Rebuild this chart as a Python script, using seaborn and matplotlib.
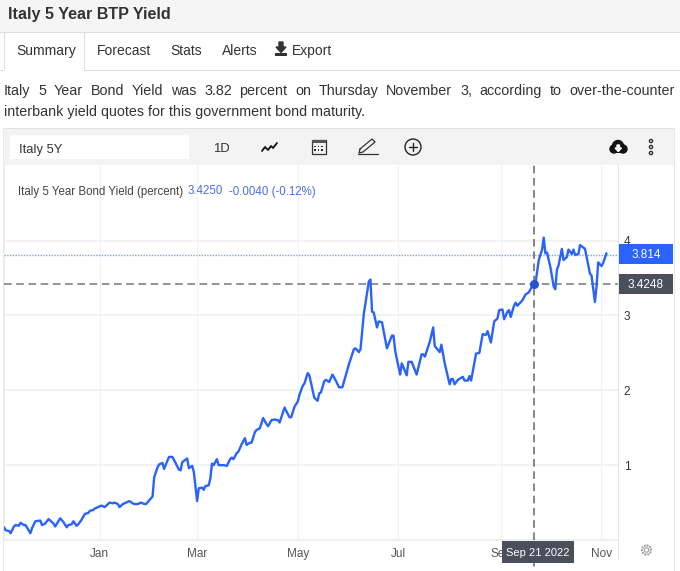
import pandas as pd
import matplotlib.pyplot as plt
import seaborn as sns
from matplotlib.patches import Rectangle, Circle, Polygon

# Days since 1 Jan 2022 and the yield
days = [-58, -57, -55, -54, -52, -51, -49, -48, -46, -45, -42, -41, -39, -36, -35, -33, -31, -29, -28, -27,
        -24, -22, -20, -19, -17, -16, -14, -13, -11, -9, -7, -6, -4, -3, 0, 1, 3, 4, 6, 8,
        9, 11, 12, 14, 16, 18, 20, 21, 23, 25, 27, 28, 30, 32, 33, 35, 36, 38, 39, 41,
        42, 44, 45, 48, 49, 50, 53, 54, 56, 57, 59, 60, 62, 63, 64, 66, 67, 68, 69, 71,
        72, 75, 77, 79, 80, 81, 83, 84, 86, 88, 89, 91, 92, 94, 95, 97, 99, 101, 102, 104,
        106, 108, 109, 112, 114, 115, 116, 118, 120, 121, 123, 124, 126, 127, 130, 132, 133, 134, 136, 137,
        139, 141, 143, 145, 147, 151, 154, 155, 157, 158, 160, 163, 164, 165, 166, 168, 169, 171, 174, 177,
        178, 179, 180, 182, 183, 186, 187, 189, 192, 195, 196, 197, 200, 202, 203, 206, 207, 209, 212, 213,
        214, 215, 217, 220, 221, 223, 224, 225, 228, 230, 232, 234, 235, 237, 239, 241, 242, 244, 245, 247,
        248, 249, 251, 252, 253, 256, 258, 260, 263, 264, 266, 268, 269, 270, 271, 273, 275, 276, 277, 278,
        280, 281, 283, 284, 286, 287, 288, 290, 291, 294, 297, 298, 300, 301, 302, 304, 305, 307]
yields = [.17, .13, .12, .09, .18, .20, .19, .23, .20, .20, .09, .16, .25, .26, .20, .22, .28, .24, .22, .18,
          .29, .24, .17, .20, .21, .25, .19, .21, .27, .35, .36, .39, .40, .42, .45, .46, .44, .46, .50, .49,
          .50, .48, .44, .48, .50, .52, .49, .48, .48, .50, .48, .48, .53, .58, .84, .97, 1.01, 1.03, .95, 1.06,
          1.11, 1.11, 1.07, .94, .93, 1.04, 1.09, .96, .99, .91, .52, .69, .70, .67, .72, .73, .82, 1.02, 1.00, 1.08,
          1.00, 1.00, .99, 1.08, 1.10, 1.08, 1.16, 1.18, 1.28, 1.36, 1.27, 1.30, 1.30, 1.44, 1.47, 1.49, 1.63, 1.55, 1.52, 1.60,
          1.61, 1.60, 1.57, 1.77, 1.68, 1.64, 1.64, 1.78, 1.85, 1.94, 2.06, 2.09, 2.23, 2.20, 1.90, 1.86, 1.96, 1.97, 2.12, 2.14,
          2.11, 2.21, 2.13, 2.04, 2.04, 2.35, 2.55, 2.56, 2.51, 2.55, 3.02, 3.45, 3.48, 3.05, 3.04, 2.84, 2.92, 2.91, 2.56, 2.73,
          2.73, 2.53, 2.42, 2.21, 2.36, 2.20, 2.38, 2.38, 2.21, 2.48, 2.48, 2.45, 2.65, 2.84, 2.59, 2.51, 2.61, 2.36, 2.08, 2.15,
          2.15, 2.08, 2.14, 2.18, 2.13, 2.13, 2.19, 2.13, 2.49, 2.50, 2.75, 2.74, 2.79, 2.64, 2.92, 2.96, 3.07, 3.08, 2.95, 3.05,
          3.07, 2.98, 3.13, 3.17, 3.13, 3.20, 3.28, 3.31, 3.43, 3.43, 3.74, 3.88, 4.04, 3.83, 3.84, 3.65, 3.39, 3.35, 3.61, 3.67,
          3.89, 3.74, 3.78, 3.88, 3.82, 3.88, 3.81, 3.82, 3.94, 3.89, 3.56, 3.53, 3.18, 3.38, 3.71, 3.66, 3.70, 3.83]

month_ticks = ["2022-01-01", "2022-03-01", "2022-05-01", "2022-07-01", "2022-09-01", "2022-11-01"]
month_labels = ["Jan", "Mar", "May", "Jul", "Sep", "Nov"]
yield_ticks = [1, 2, 3, 4]
last_value = 3.814
cross_value = 3.4248
cross_date = "2022-09-21"

BLUE = "#2962ff"
DARK = "#4a4f5b"
W, H = 680, 571

dates = pd.Timestamp("2022-01-01") + pd.to_timedelta(days, unit="D")
df = pd.DataFrame({"date": dates, "yield": yields})

sns.set_theme(style="white")
plt.rcParams["font.family"] = ["Liberation Sans", "DejaVu Sans"]

fig = plt.figure(figsize=(W / 100, H / 100), dpi=100, facecolor="white")

# Chart
ax = fig.add_axes([4 / W, (H - 540) / H, 614 / W, 375 / H], zorder=1)
sns.lineplot(data=df, x="date", y="yield", ax=ax, color=BLUE, linewidth=1.7, estimator=None, zorder=5,
             solid_joinstyle="round")
ax.set_xlim(pd.Timestamp("2022-01-01") - pd.Timedelta(days=58), pd.Timestamp("2022-01-01") + pd.Timedelta(days=314))
ax.set_ylim(0, 5.01)
ax.set_xlabel("")
ax.set_ylabel("")
ax.set_xticks(pd.to_datetime(month_ticks))
ax.set_xticklabels(month_labels)
ax.set_yticks(yield_ticks)
ax.yaxis.tick_right()
ax.tick_params(axis="x", length=0, pad=6, labelsize=8.5, labelcolor="#555555")
ax.tick_params(axis="y", length=0, pad=4, labelsize=8.5, labelcolor="#333333")
ax.grid(axis="y", color="#f0f0f0", linewidth=1.2)
ax.grid(axis="x", color="#f0f4f8", linewidth=0.8)
ax.set_axisbelow(True)
ax.spines["top"].set_visible(False)
ax.spines["left"].set_color("#eeeeee")
ax.spines["right"].set_color("#e6e6e6")
ax.spines["right"].set_linewidth(0.8)
ax.spines["bottom"].set_color("#efefef")
ax.spines["bottom"].set_linewidth(1.5)

cross_x = pd.Timestamp(cross_date)
ax.axhline(last_value, color="#7f9dff", linewidth=1, linestyle=(0, (1, 1)), zorder=3)
ax.axhline(cross_value, color="#777777", linewidth=1.1, linestyle=(0, (5, 3)), zorder=4)
ax.axvline(cross_x, color="#666666", linewidth=1.1, linestyle=(0, (5, 3)), zorder=4)
ax.scatter([cross_x], [cross_value], s=30, color="#2553d8", zorder=6)

# Page furniture, in pixel coordinates
ui = fig.add_axes([0, 0, 1, 1], zorder=2)
ui.set_xlim(0, W)
ui.set_ylim(H, 0)
ui.axis("off")


def box(x0, y0, x1, y1, color, **kw):
    ui.add_patch(Rectangle((x0, y0), x1 - x0, y1 - y0, facecolor=color, edgecolor="none", **kw))


def justified(line, x0, x1, y, size, color):
    # lay the words out one by one, the browser stretches the gaps
    renderer = fig.canvas.get_renderer()
    words = line.split(" ")
    items = [ui.text(0, y, w, fontsize=size, color=color, va="baseline", ha="left") for w in words]
    inv = ui.transData.inverted()
    widths = []
    for t in items:
        bb = t.get_window_extent(renderer)
        widths.append(inv.transform((bb.x1, 0))[0] - inv.transform((bb.x0, 0))[0])
    gap = (x1 - x0 - sum(widths)) / (len(words) - 1)
    x = x0
    for t, w in zip(items, widths):
        t.set_x(x)
        x += w + gap


# Header and tabs
box(0, 0, W, 32, "#f5f5f5")
box(0, 32, W, 33, "#dddddd")
ui.text(8, 19, "Italy 5 Year BTP Yield", fontsize=11.6, fontweight="bold", color="#333333", va="baseline")
box(0, 70, W, 71, "#dddddd")
box(4, 33, 84, 71.5, "white")
box(3.5, 33, 4.5, 70, "#dddddd")
box(84, 33, 85, 71, "#dddddd")
for label, x in [("Summary", 16.5), ("Forecast", 97), ("Stats", 170.5), ("Alerts", 222), ("Export", 292)]:
    ui.text(x, 55, label, fontsize=10, color="#333333", va="baseline")
# export icon
box(275, 53, 287, 56, "#333333")
ui.add_patch(Polygon([(279, 42), (283, 42), (283, 47), (286, 47), (281, 52.5), (276, 47), (279, 47)], color="#333333"))

justified("Italy 5 Year Bond Yield was 3.82 percent on Thursday November 3, according to over-the-counter",
          4, 675, 95, 10.3, "#333333")
ui.text(4, 116, "interbank yield quotes for this government bond maturity.", fontsize=10.3, color="#333333", va="baseline")

# Toolbar
box(3, 128, 675, 165, "#f3f3f3")
box(3, 128, 675, 129, "#e2e2e2")
box(3, 128, 4, H, "#e8e8e8")
box(674, 128, 675, H, "#e8e8e8")
box(10, 135, 189, 159, "white")
ui.text(19, 153, "Italy 5Y", fontsize=9.4, color="#333333", va="baseline")
ui.text(221, 152, "1D", fontsize=9.4, color="#333333", va="baseline", ha="center")
# trend icon
ui.plot([262, 265, 268, 271, 273, 277], [151, 147, 150, 146, 148, 143], color="#111111", lw=1.3)
# calendar icon
ui.add_patch(Rectangle((311.5, 140), 14, 13.5, fill=False, edgecolor="#333333", lw=0.9))
box(311.5, 140, 325.5, 143, "#555555")
for cx in [315, 318.5, 322]:
    for cy in [146.5, 150]:
        box(cx - 0.7, cy - 0.7, cx + 0.7, cy + 0.7, "#333333")
# pencil icon
ui.plot([360, 372, 375, 363, 359, 360], [149, 139, 142, 152, 153, 149], color="#333333", lw=0.9)
ui.plot([358, 378], [154, 154], color="#333333", lw=0.9)
# add icon
ui.add_patch(Circle((413, 147), 8, fill=False, edgecolor="#222222", lw=1))
ui.plot([409, 417], [147, 147], color="#222222", lw=1)
ui.plot([413, 413], [143, 151], color="#222222", lw=1)
# cloud icon
for cx, cy, r in [(614, 149, 4), (618, 146, 5.5), (623, 149, 4)]:
    ui.add_patch(Circle((cx, cy), r, color="#111111"))
box(614, 149, 623, 153, "#111111")
ui.add_patch(Polygon([(617, 145), (619.5, 145), (619.5, 148), (621.5, 148), (618.2, 151.5), (615, 148), (617, 148)], color="white"))
# dots
for cy in [141, 147, 153]:
    ui.add_patch(Circle((651, cy), 1.6, fill=False, edgecolor="#333333", lw=1))

# Legend line
ui.text(18, 194.5, "Italy 5 Year Bond Yield (percent)", fontsize=8.3, color="#444444", va="baseline")
ui.text(188, 194.5, "3.4250", fontsize=8.3, color="#4a6cf0", va="baseline")
ui.text(229, 194.5, "-0.0040 (-0.12%)", fontsize=8.3, color="#4a6cf0", va="baseline")

# Price labels
box(619, 244, 673, 264, BLUE)
ui.text(646, 255, f"{last_value:.3f}", fontsize=8.5, color="white", va="center", ha="center")
box(619, 274, 673, 294, DARK)
ui.text(646, 285, f"{cross_value:.4f}", fontsize=8.5, color="white", va="center", ha="center")
box(502, 541, 574, 563, DARK)
ui.text(538, 553, pd.Timestamp(cross_date).strftime("%b %d %Y"), fontsize=8, color="white", va="center", ha="center")
ui.plot([533.5, 533.5], [563, 566], color="#666666", lw=1.1)
box(618, 540, 619, 560, "#e6e6e6")

# gear
ui.add_patch(Circle((646.5, 550), 4.6, fill=False, edgecolor="#999999", lw=1.4, linestyle=(0, (1, 0.5))))
ui.add_patch(Circle((646.5, 550), 2.2, fill=False, edgecolor="#999999", lw=0.8))

fig.savefig("out.png", dpi=100)
